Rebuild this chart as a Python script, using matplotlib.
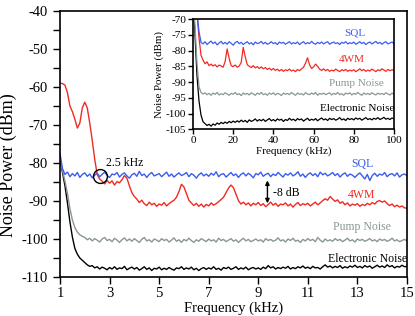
import numpy as np
import matplotlib
matplotlib.use("Agg")
import matplotlib.pyplot as plt
from matplotlib.ticker import MultipleLocator

plt.rcParams['font.family'] = ['Liberation Serif', 'DejaVu Serif']
plt.rcParams['axes.unicode_minus'] = False

# main panel: 1 - 15 kHz, one sample per 0.1 kHz
freq_main = np.round(np.arange(1.0, 15.01, 0.1), 1)
main_xticks = [1, 3, 5, 7, 9, 11, 13, 15]

sql_main = [
    -77.5, -81.5, -83.0, -82.4, -83.6, -82.8, -83.4, -82.5, -83.8, -83.0,
    -82.6, -83.5, -82.9, -83.9, -83.2, -82.7, -83.6, -83.0, -82.4, -83.3,
    -83.8, -82.9, -83.1, -82.5, -83.7, -83.0, -82.6, -83.4, -84.0, -83.1,
    -82.7, -83.5, -82.2, -83.3, -82.9, -83.8, -83.0, -82.5, -83.4, -83.1,
    -82.8, -83.6, -83.0, -82.4, -83.5, -82.9, -83.7, -83.1, -82.6, -83.3,
    -83.0, -82.5, -83.6, -82.8, -83.2, -84.0, -83.1, -82.6, -83.4, -82.9,
    -83.5, -82.7, -83.2, -82.3, -83.6, -83.0, -82.8, -83.7, -83.1, -82.5,
    -83.3, -82.9, -83.8, -83.0, -82.6, -83.4, -82.7, -83.2, -83.9, -82.8,
    -83.1, -82.4, -83.5, -83.0, -82.7, -83.6, -82.9, -83.3, -82.5, -83.1,
    -83.7, -82.8, -83.2, -82.6, -83.4, -83.0, -82.3, -83.5, -82.9, -83.8,
    -83.0, -82.6, -83.3, -82.8, -83.6, -82.4, -83.1, -82.7, -83.4, -83.0,
    -82.5, -83.3, -82.8, -83.7, -83.0, -82.6, -83.5, -82.9, -83.2, -83.8,
    -83.1, -82.6, -83.4, -84.2, -83.0, -84.6, -83.3, -82.7, -83.5, -82.9,
    -83.2, -82.5, -83.6, -83.0, -82.8, -83.4, -82.6, -83.7, -83.1, -82.9,
    -83.3]

fwm_main = [
    -59.0, -59.1, -59.5, -61.5, -65.0, -66.5, -68.5, -70.8, -69.5, -65.5,
    -64.0, -65.5, -69.5, -74.0, -79.0, -83.0, -84.2, -84.8, -85.5, -84.6,
    -85.3, -84.7, -85.8, -84.9, -85.2, -84.4, -83.3, -84.0, -86.0, -87.8,
    -88.8, -89.5, -90.4, -89.8, -90.7, -91.2, -90.3, -91.0, -90.6, -91.4,
    -90.8, -91.1, -90.4, -91.3, -90.7, -90.2, -89.8, -89.0, -87.5, -85.6,
    -86.3, -88.0, -89.8, -90.5, -91.2, -90.6, -91.4, -90.8, -91.6, -90.9,
    -91.3, -90.5, -91.1, -90.7, -90.2, -89.6, -89.0, -87.8, -86.6, -85.8,
    -86.5, -88.2, -89.9, -90.8, -90.3, -91.0, -90.5, -91.3, -90.6, -91.0,
    -90.4, -91.2, -90.7, -91.5, -90.9, -90.3, -91.1, -90.6, -91.4, -90.8,
    -91.0, -90.5, -91.3, -90.8, -91.6, -90.9, -90.4, -91.2, -90.7, -91.0,
    -90.6, -91.3, -90.8, -90.3, -91.0, -90.5, -89.9, -89.4, -89.8, -88.8,
    -89.5, -90.1, -89.7, -90.6, -90.2, -91.0, -90.5, -91.3, -90.8, -91.1,
    -90.7, -91.4, -90.9, -91.2, -90.6, -91.0, -90.4, -90.8, -90.1, -89.9,
    -90.3, -90.0, -90.7, -91.2, -90.8, -91.5, -91.1, -91.6, -91.3, -91.8,
    -91.9]

pump_main = [
    -79.0, -82.0, -84.8, -88.0, -92.0, -95.0, -97.0, -98.2, -98.9, -99.3,
    -99.6, -100.2, -99.8, -100.5, -99.9, -100.3, -100.8, -100.0, -99.6, -100.4,
    -100.1, -100.7, -99.8, -100.3, -100.9, -100.2, -99.7, -100.5, -100.0, -100.6,
    -99.9, -100.4, -100.9, -100.1, -99.6, -100.5, -100.2, -100.8, -100.0, -100.3,
    -100.7, -99.9, -100.4, -100.1, -100.8, -100.3, -99.7, -100.6, -100.2, -100.9,
    -100.1, -100.5, -99.8, -100.4, -100.9, -100.2, -100.6, -99.9, -100.3, -100.7,
    -100.0, -100.5, -100.2, -100.8, -99.8, -100.4, -100.1, -100.7, -100.3, -99.9,
    -100.6, -100.2, -100.9, -100.3, -99.8, -100.5, -100.1, -100.7, -100.4, -100.0,
    -100.5, -100.2, -100.8, -99.9, -100.4, -100.1, -100.6, -100.3, -99.7, -100.5,
    -100.2, -100.8, -100.0, -100.4, -99.8, -100.6, -100.3, -100.9, -100.1, -100.5,
    -99.9, -100.4, -100.1, -100.7, -99.6, -100.3, -100.8, -100.0, -100.5, -100.2,
    -100.6, -99.9, -100.4, -100.1, -100.7, -100.3, -99.8, -100.5, -100.2, -100.8,
    -100.0, -100.4, -100.1, -100.6, -100.3, -99.9, -100.5, -100.2, -100.7, -100.0,
    -100.4, -100.1, -100.6, -100.3, -99.8, -100.5, -100.2, -100.7, -100.4, -100.1,
    -100.5]

elec_main = [
    -79.0, -82.5, -86.0, -90.5, -95.5, -99.5, -102.5, -104.0, -105.0, -105.6,
    -106.2, -106.8, -107.2, -107.0, -107.6, -107.3, -107.9, -107.4, -107.7, -108.1,
    -107.5, -107.9, -107.3, -108.0, -107.6, -107.8, -107.2, -108.1, -107.7, -107.4,
    -107.9, -107.5, -108.2, -107.8, -107.3, -108.0, -107.6, -108.3, -107.7, -107.9,
    -107.4, -108.1, -107.7, -108.0, -107.5, -107.9, -108.2, -107.6, -107.8, -107.3,
    -108.0, -107.6, -107.9, -107.4, -108.1, -107.7, -108.3, -107.8, -107.5, -108.0,
    -107.6, -107.9, -107.3, -108.0, -107.7, -108.2, -107.5, -107.8, -107.4, -108.0,
    -107.7, -107.3, -108.0, -107.6, -107.9, -107.4, -108.1, -107.7, -107.5, -107.9,
    -107.6, -108.0, -107.4, -107.8, -107.0, -107.6, -107.3, -107.9, -107.5, -107.8,
    -107.4, -107.7, -107.2, -107.9, -107.5, -107.8, -107.3, -107.6, -107.1, -107.7,
    -107.4, -107.8, -107.2, -107.6, -107.5, -107.9, -107.3, -106.8, -107.4, -107.1,
    -107.6, -107.2, -107.5, -107.0, -107.7, -107.3, -107.6, -107.1, -107.4, -106.9,
    -107.5, -107.2, -107.6, -107.0, -107.4, -107.1, -107.7, -107.3, -106.9, -107.4,
    -107.1, -107.5, -106.8, -107.3, -107.0, -107.6, -107.2, -107.4, -106.9, -107.3,
    -107.2]

# inset: 0 - 100 kHz, one sample per kHz
freq_inset = np.arange(0, 101, 1)

sql_inset = [
    -60.0, -64.0, -68.0, -74.0, -77.4,
    -77.9, -77.2, -78.1, -77.5, -77.0, -77.8, -77.3, -78.2, -77.6, -77.1,
    -77.9, -77.4, -78.0, -77.2, -77.7, -78.3, -77.5, -77.1, -77.8, -77.4,
    -78.1, -77.6, -77.2, -77.9, -77.5, -78.2, -77.3, -77.8, -77.6, -77.1,
    -77.9, -77.4, -78.0, -77.7, -77.2, -77.8, -77.5, -78.1, -77.3, -77.7,
    -77.4, -78.0, -77.6, -77.2, -77.9, -77.5, -77.8, -77.3, -78.1, -77.6,
    -77.2, -77.9, -77.5, -77.8, -77.1, -77.7, -78.0, -77.4, -77.8, -77.3,
    -77.9, -77.5, -77.2, -78.0, -77.6, -77.3, -77.8, -77.5, -78.1, -77.4,
    -77.7, -77.2, -77.9, -77.5, -77.8, -77.3, -78.0, -77.6, -77.2, -77.8,
    -77.4, -78.1, -77.6, -77.3, -77.9, -77.5, -77.1, -77.8, -77.4, -78.0,
    -77.5, -77.2, -77.9, -77.6, -77.3, -77.8]

fwm_inset = [
    -60.0, -63.0, -68.0, -76.0, -81.5, -83.0, -84.2, -83.6, -84.8, -84.3,
    -84.9, -84.5, -85.2, -84.6, -84.9, -85.3, -83.5, -79.5, -82.5, -84.8,
    -85.1, -84.6, -85.3, -84.9, -83.8, -79.0, -82.0, -84.5, -85.0, -85.4,
    -84.8, -85.5, -85.1, -85.7, -85.2, -85.8, -85.4, -86.0, -85.6, -86.2,
    -85.7, -86.3, -85.9, -86.5, -86.0, -86.6, -86.1, -86.4, -85.9, -86.5,
    -86.2, -86.7, -86.0, -86.4, -85.8, -85.3, -84.0, -82.3, -84.5, -85.7,
    -85.2, -84.3, -85.0, -85.9, -86.3, -85.8, -86.4, -86.0, -86.6, -86.2,
    -86.5, -85.9, -86.3, -86.7, -86.1, -86.4, -86.0, -86.6, -86.2, -86.5,
    -86.1, -86.7, -86.3, -85.8, -86.4, -86.0, -86.6, -86.2, -86.5, -85.9,
    -86.3, -86.7, -86.1, -86.4, -85.8, -86.2, -86.6, -86.0, -86.4, -86.1,
    -86.3]

pump_inset = [
    -62.0, -72.0, -84.0, -91.5, -93.3, -93.8,
    -93.4, -94.0, -93.6, -94.2, -93.5, -93.9, -93.3, -94.1, -93.7, -94.0,
    -93.4, -93.8, -94.2, -93.6, -93.9, -93.3, -94.0, -93.7, -94.3, -93.5,
    -93.9, -93.6, -94.1, -93.4, -93.8, -94.2, -93.5, -93.9, -93.3, -94.0,
    -93.7, -94.2, -93.5, -93.9, -93.4, -94.1, -93.6, -93.8, -94.3, -93.5,
    -93.9, -93.6, -94.0, -93.3, -93.8, -94.2, -93.5, -93.9, -93.7, -94.1,
    -93.4, -93.8, -94.0, -93.5, -93.9, -93.3, -94.2, -93.6, -93.9, -93.5,
    -94.0, -93.7, -93.4, -94.1, -93.6, -93.9, -93.3, -94.0, -93.7, -94.2,
    -93.5, -93.8, -93.4, -94.1, -93.6, -93.9, -93.3, -93.8, -94.2, -93.5,
    -93.9, -93.6, -94.0, -93.4, -93.8, -94.1, -93.5, -93.9, -93.6, -94.0,
    -93.4, -93.8, -94.1, -93.5, -93.9]

elec_inset = [
    -62.0, -75.0, -88.0, -96.0, -100.5, -102.6, -103.2, -103.8, -103.4, -104.0,
    -103.3, -103.7, -103.0, -103.4, -102.8, -103.2, -102.7, -103.1, -102.5, -102.9,
    -102.4, -102.8, -102.3, -102.7, -102.1, -102.6, -102.2, -102.8, -102.0, -102.5,
    -102.2, -101.7, -102.4, -101.9, -102.3, -101.8, -102.5, -102.0, -101.6, -102.3,
    -101.9, -102.4, -101.7, -102.1, -101.8, -102.5, -101.9, -102.2, -101.5, -102.1,
    -101.8, -102.3, -101.6, -102.0, -101.7, -102.4, -101.9, -101.5, -102.2, -101.8,
    -102.1, -101.6, -102.3, -101.8, -101.4, -102.0, -101.7, -102.2, -101.5, -101.9,
    -101.6, -102.1, -101.8, -101.3, -102.0, -101.7, -102.2, -101.5, -101.9, -101.6,
    -102.0, -101.4, -101.8, -101.5, -102.1, -101.7, -101.3, -101.9, -101.6, -102.0,
    -101.5, -101.8, -101.3, -101.9, -101.6, -101.2, -101.8, -101.5, -101.9, -101.4,
    -101.7]

c_sql = '#3a5cf0'
c_fwm = '#f02a22'
c_pump = '#8a9696'
c_elec = 'black'

fig = plt.figure(figsize=(4.15, 3.16), dpi=100)

# ---- main axes ----
ax = fig.add_axes([0.1446, 0.1234, 0.836, 0.8418])
ax.plot(freq_main, elec_main, color=c_elec, lw=1.0)
ax.plot(freq_main, pump_main, color=c_pump, lw=1.0)
ax.plot(freq_main, fwm_main, color=c_fwm, lw=1.0)
ax.plot(freq_main, sql_main, color=c_sql, lw=1.0)
ax.set_xlim(1, 15)
ax.set_ylim(-110, -40)
ax.set_xticks(main_xticks)
ax.yaxis.set_major_locator(MultipleLocator(10))
ax.yaxis.set_minor_locator(MultipleLocator(5))
ax.tick_params(which='both', direction='out', length=5, width=1.0, labelsize=10.5)
ax.tick_params(axis='x', pad=2)
for s in ax.spines.values():
    s.set_linewidth(1.2)
ax.set_xlabel('Frequency (kHz)', fontsize=10.5, labelpad=1)
ax.set_ylabel('Noise Power (dBm)', fontsize=13, va='bottom')
ax.yaxis.set_label_coords(-0.125, 0.42)

# annotations
ax.plot([2.6], [-83.3], marker='o', ms=10, mfc='none', mec='black', mew=1.0)
ax.text(2.85, -80.0, '2.5 kHz', fontsize=8.5, ha='left', va='center')
ax.annotate('', xy=(9.37, -84.6), xytext=(9.37, -90.6),
            arrowprops=dict(arrowstyle='<|-|>', color='black', lw=1.0,
                            mutation_scale=6, shrinkA=0, shrinkB=0))
ax.text(9.58, -87.9, '-8 dB', fontsize=8.5, ha='left', va='center')
ax.text(13.22, -80.3, 'SQL', color=c_sql, fontsize=8.5, ha='center', va='center')
ax.text(13.18, -88.4, '4WM', color=c_fwm, fontsize=8.5, ha='center', va='center')
ax.text(13.18, -96.8, 'Pump Noise', color=c_pump, fontsize=8.5, ha='center', va='center')
ax.text(13.4, -105.3, 'Electronic Noise', color=c_elec, fontsize=8.5, ha='center', va='center')

# ---- inset ----
ins = fig.add_axes([0.465, 0.5908, 0.4843, 0.349])
ins.plot(freq_inset, elec_inset, color=c_elec, lw=0.9)
ins.plot(freq_inset, pump_inset, color=c_pump, lw=0.9)
ins.plot(freq_inset, fwm_inset, color=c_fwm, lw=0.9)
ins.plot(freq_inset, sql_inset, color=c_sql, lw=0.9)
ins.set_xlim(0, 100)
ins.set_ylim(-105, -70)
ins.xaxis.set_major_locator(MultipleLocator(20))
ins.yaxis.set_major_locator(MultipleLocator(5))
ins.tick_params(direction='out', length=3.5, width=1.0, labelsize=8, pad=1.5)
for s in ins.spines.values():
    s.set_linewidth(1.2)
ins.set_xlabel('Frequency (kHz)', fontsize=8, labelpad=1)
ins.set_ylabel('Noise Power (dBm)', fontsize=7.8, labelpad=1)
ins.text(80.6, -74.5, 'SQL', color=c_sql, fontsize=8, ha='center', va='center')
ins.text(79.0, -82.7, '4WM', color=c_fwm, fontsize=8, ha='center', va='center')
ins.text(81.5, -90.4, 'Pump Noise', color=c_pump, fontsize=8, ha='center', va='center')
ins.text(81.5, -98.3, 'Electronic Noise', color=c_elec, fontsize=8, ha='center', va='center')

fig.savefig('out.png', dpi=100)
